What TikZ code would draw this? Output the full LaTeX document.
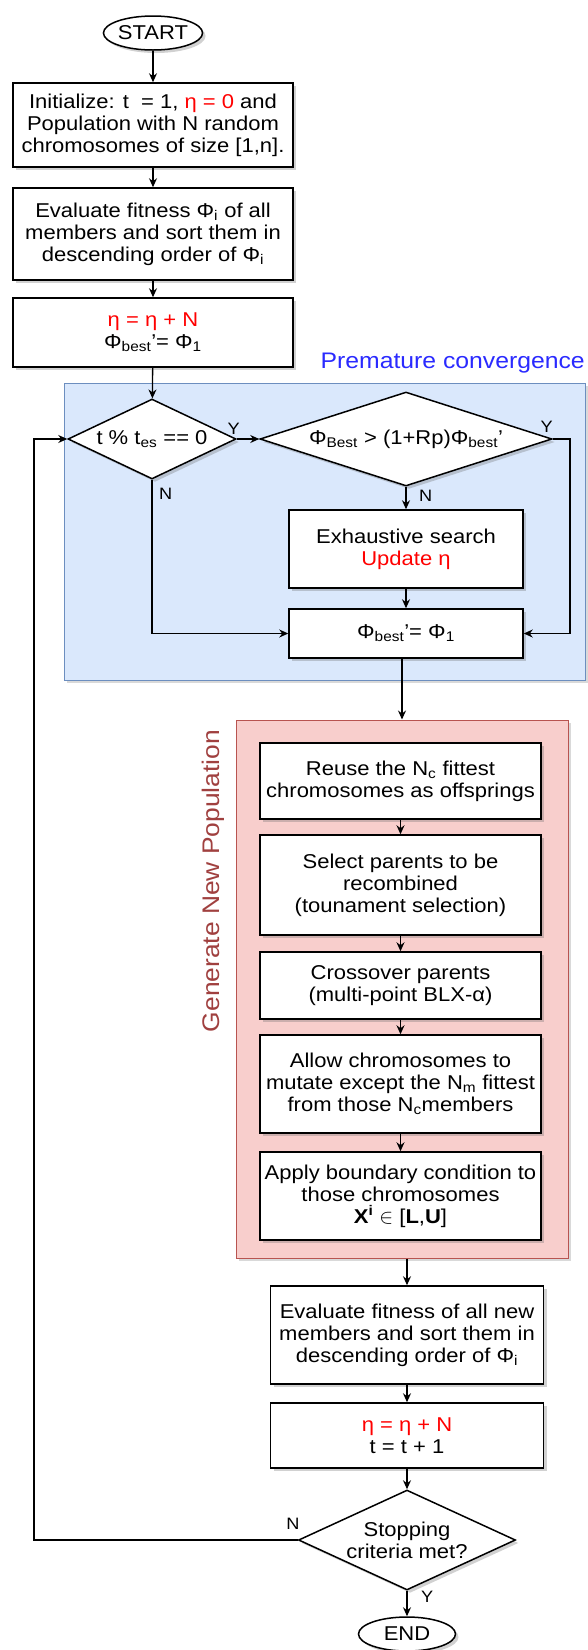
\documentclass[tikz,border=0pt]{standalone}
\usepackage{fontspec}
\setmainfont{Liberation Sans}[FakeStretch=1.1]
\usetikzlibrary{shapes.geometric, shadows, arrows.meta}

\definecolor{convfill}{HTML}{DAE8FC}
\definecolor{convline}{HTML}{6C8EBF}
\definecolor{convtext}{HTML}{2A2AFF}
\definecolor{genfill}{HTML}{F8CECC}
\definecolor{genline}{HTML}{B85450}
\definecolor{gentext}{HTML}{A0403F}
\newcommand{\rtext}[1]{\textcolor{red}{#1}}

\begin{document}
\begin{tikzpicture}[x=1pt, y=-1pt,
    font=\fontsize{20}{22}\selectfont,
    box/.style={draw, fill=white, line width=1.5pt, align=center, inner sep=1pt,
        drop shadow={shadow xshift=3pt, shadow yshift=-3pt, opacity=0.3, fill=black!60}},
    dec/.style={box, diamond, inner sep=-2pt},
    term/.style={box, ellipse, inner sep=0pt},
    wh/.style 2 args={minimum width=#1pt, minimum height=#2pt},
    region/.style={draw=#1line, fill=#1fill, line width=1pt,
        drop shadow={shadow xshift=3pt, shadow yshift=-3pt, opacity=0.25, fill=black!60}},
    arr/.style={line width=1.3pt, -{Stealth[length=9pt, width=8pt]}},
    yn/.style={inner sep=0pt, font=\fontsize{16.5}{16.5}\selectfont}]
        \useasboundingbox (0,0) rectangle (587,1650);

        \node[term, wh={94}{34}] (start) at (153,33) {START};
        \node[box, wh={280}{84}] (init) at (153,125) {Initialize: t \ = 1, \rtext{η = 0} and\\Population with N random\\chromosomes of size [1,n].};
        \node[box, wh={280}{92}] (eval) at (153,234) {Evaluate fitness Φ\textsubscript{i} of all\\members and sort them in\\descending order of Φ\textsubscript{i}};
        \node[box, wh={280}{69}] (count) at (153,332.5) {\rtext{η = η + N}\\Φ\textsubscript{best}'= Φ\textsubscript{1}};

        % premature convergence check
        \node[region=conv, wh={521}{297}] (conv) at (324.5,531.5) {};
        \node[text=convtext, font=\fontsize{22.5}{23}\selectfont, anchor=base east, inner sep=0pt] (convlbl) at (585,368) {Premature convergence};
        \node[dec, aspect=2.1, wh={168}{80}] (test) at (152,439) {t \% t\textsubscript{es} == 0};
        \node[dec, aspect=3.1, wh={292}{94}] (best) at (406,439) {Φ\textsubscript{Best} > (1+Rp)Φ\textsubscript{best}'};
        \node[box, wh={234}{78}] (exh) at (406,549) {Exhaustive search\\\rtext{Update η}};
        \node[box, wh={234}{49}] (keep) at (406,633.5) {Φ\textsubscript{best}'= Φ\textsubscript{1}};

        % new population
        \node[region=gen, wh={332}{538}] (gen) at (402,989) {};
        \node[rotate=90, text=gentext, font=\fontsize{24}{24}\selectfont, inner sep=0pt] (genlbl) at (213,881) {Generate New Population};
        \node[box, wh={281}{76}] (reuse) at (400.5,781) {Reuse the N\textsubscript{c} fittest\\chromosomes as offsprings};
        \node[box, wh={281}{100}] (select) at (400.5,885) {Select parents to be\\recombined\\(tounament selection)};
        \node[box, wh={281}{67}] (cross) at (400.5,985.5) {Crossover parents\\(multi-point BLX-α)};
        \node[box, wh={281}{98}] (mutate) at (400.5,1084) {Allow chromosomes to\\mutate except the N\textsubscript{m} fittest\\from those N\textsubscript{c}members};
        \node[box, wh={281}{88}] (bound) at (400.5,1196) {Apply boundary condition to\\those chromosomes\\\textbf{X}\textsuperscript{\textbf{i}} $\in$ [\textbf{L},\textbf{U}]};

        \node[box, wh={273}{98}] (evalnew) at (407,1335) {Evaluate fitness of all new\\members and sort them in\\descending order of Φ\textsubscript{i}};
        \node[box, wh={273}{65}] (next) at (407,1435.5) {\rtext{η = η + N}\\t = t + 1};
        \node[dec, aspect=2.17, wh={217}{100}] (stop) at (407,1540) {Stopping\\criteria met?};
        \node[term, wh={97}{34}] (end) at (407,1634) {END};

        \coordinate (yturn) at (570,439);
        \coordinate (loop) at (34,1540);

        \draw[arr] (start) -- (init);
        \draw[arr] (init) -- (eval);
        \draw[arr] (eval) -- (count);
        \draw[arr] (count) -- (test);
        \draw[arr] (test) -- (best);
        \node[yn, anchor=south] (y1) at ([xshift=-3pt, yshift=4pt]test.east) {Y};
        \draw[arr] (test.south) |- (keep.west);
        \node[yn, anchor=north west] (n1) at ([xshift=7pt, yshift=-8pt]test.south) {N};
        \draw[arr] (best) -- (exh);
        \node[yn, anchor=north west] (n2) at ([xshift=13pt, yshift=-3pt]best.south) {N};
        \draw[arr] (best.east) -- (yturn) |- (keep.east);
        \node[yn, anchor=south] (y2) at ([xshift=-6pt, yshift=6pt]best.east) {Y};
        \draw[arr] (exh) -- (keep);
        \draw[arr] (keep.south -| gen.north) -- (gen.north);

        \draw[arr] (reuse) -- (select);
        \draw[arr] (select) -- (cross);
        \draw[arr] (cross) -- (mutate);
        \draw[arr] (mutate) -- (bound);

        \draw[arr] (evalnew.north |- gen.south) -- (evalnew.north);
        \draw[arr] (evalnew) -- (next);
        \draw[arr] (next) -- (stop);
        \draw[arr] (stop) -- (end);
        \node[yn, anchor=north west] (y3) at ([xshift=14pt]stop.south) {Y};
        \draw[arr] (stop.west) -- (loop) |- (test.west);
        \node[yn, anchor=south east] (n3) at ([xshift=2pt, yshift=10pt]stop.west) {N};
\end{tikzpicture}
\end{document}
